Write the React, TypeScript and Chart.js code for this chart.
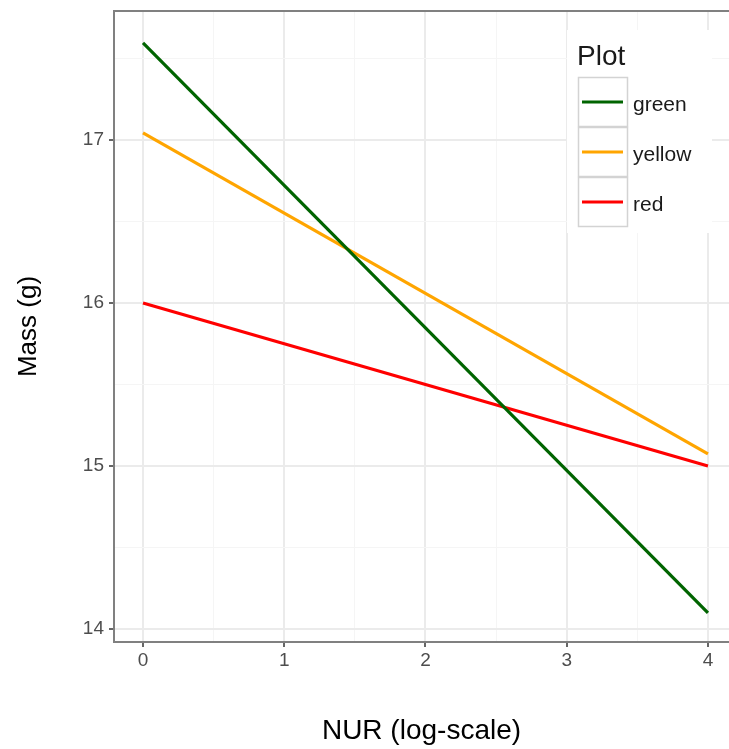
import React, { useEffect, useRef } from "react";
import { Chart, registerables } from "chart.js";

Chart.register(...registerables);

// Fitted lines of mass against NUR, one per plot
const nurValues = [0, 4];
const greenMass = [17.595, 14.098];
const yellowMass = [17.043, 15.074];
const redMass = [16.0, 15.0];

const seriesNames = ["green", "yellow", "red"];
const seriesColors = ["#006400", "#FFA500", "#FF0000"];

// Axis breaks (major ones carry labels, minor ones only a light grid line)
const xBreaks = [0, 0.5, 1, 1.5, 2, 2.5, 3, 3.5, 4];
const xLabels = ["0", "", "1", "", "2", "", "3", "", "4"];
const yBreaks = [14, 14.5, 15, 15.5, 16, 16.5, 17, 17.5];
const yLabels = ["14", "", "15", "", "16", "", "17", ""];

const FONT = "'Liberation Sans', Arial, sans-serif";

const legendPlugin = {
  id: "plotLegend",
  afterDatasetsDraw(chart: any) {
    const { ctx, chartArea } = chart;
    ctx.save();
    // top panel border
    ctx.strokeStyle = "#808080";
    ctx.lineWidth = 2;
    ctx.beginPath();
    ctx.moveTo(chartArea.left, chartArea.top);
    ctx.lineTo(chartArea.right, chartArea.top);
    ctx.stroke();

    // legend background
    ctx.fillStyle = "#FFFFFF";
    ctx.fillRect(567, 30, 145, 203);

    ctx.fillStyle = "#1a1a1a";
    ctx.font = `28px ${FONT}`;
    ctx.textBaseline = "alphabetic";
    ctx.textAlign = "left";
    ctx.fillText("Plot", 577, 65);

    const keyLeft = 578;
    const keyW = 50;
    const keyH = 50;
    const keyTop = 77;
    seriesNames.forEach((name, i) => {
      const top = keyTop + i * keyH;
      ctx.fillStyle = "#FFFFFF";
      ctx.fillRect(keyLeft, top, keyW, keyH);
      ctx.strokeStyle = "#D3D3D3";
      ctx.lineWidth = 1.5;
      ctx.strokeRect(keyLeft + 0.5, top + 0.5, keyW - 1, keyH - 1);
      ctx.strokeStyle = seriesColors[i];
      ctx.lineWidth = 3;
      ctx.beginPath();
      ctx.moveTo(keyLeft + 4, top + 25);
      ctx.lineTo(keyLeft + 45, top + 25);
      ctx.stroke();
      ctx.fillStyle = "#1a1a1a";
      ctx.font = `21px ${FONT}`;
      ctx.textBaseline = "middle";
      ctx.fillText(name, keyLeft + 55, top + 28);
    });
    ctx.restore();
  },
};

export default function App() {
  const canvasRef = useRef<HTMLCanvasElement | null>(null);

  useEffect(() => {
    const canvas = canvasRef.current;
    if (!canvas) return;
    const seriesValues = [greenMass, yellowMass, redMass];
    const chart = new Chart(canvas, {
      type: "line",
      data: {
        datasets: seriesNames.map((name, i) => ({
          label: name,
          data: nurValues.map((x, j) => ({ x, y: seriesValues[i][j] })),
          borderColor: seriesColors[i],
          backgroundColor: seriesColors[i],
          borderWidth: 3.2,
          pointRadius: 0,
          fill: false,
          tension: 0,
        })),
      },
      options: {
        responsive: false,
        animation: false,
        devicePixelRatio: 1,
        layout: { padding: { top: 11, left: 0, right: 0, bottom: 0 } },
        plugins: {
          legend: { display: false },
          tooltip: { enabled: false },
        },
        scales: {
          x: {
            type: "linear",
            min: -0.2053,
            max: 4.149,
            afterFit(scale: any) {
              scale.height = 107;
              scale.paddingLeft = 0;
              scale.paddingRight = 0;
            },
            afterBuildTicks(scale: any) {
              scale.ticks = xBreaks.map((v) => ({ value: v }));
            },
            ticks: {
              autoSkip: false,
              maxRotation: 0,
              padding: 2,
              color: "#4D4D4D",
              font: { family: FONT, size: 19 },
              callback: (_v: any, i: number) => xLabels[i],
            },
            grid: {
              color: (c: any) => (xLabels[c.index] ? "#EBEBEB" : "#F5F5F5"),
              lineWidth: (c: any) => (xLabels[c.index] ? 2 : 1),
              tickColor: (c: any) => (xLabels[c.index] ? "#333333" : "rgba(0,0,0,0)"),
              tickWidth: 1.5,
              tickLength: 5,
            },
            border: { display: true, color: "#808080", width: 2 },
            title: {
              display: true,
              text: "NUR (log-scale)",
              color: "#000000",
              font: { family: FONT, size: 28 },
              padding: { top: 0, bottom: 1 },
            },
          },
          y: {
            type: "linear",
            min: 13.92,
            max: 17.791,
            afterFit(scale: any) {
              scale.width = 114;
              scale.paddingTop = 0;
              scale.paddingBottom = 0;
            },
            afterBuildTicks(scale: any) {
              scale.ticks = yBreaks.map((v) => ({ value: v }));
            },
            ticks: {
              autoSkip: false,
              padding: 5,
              color: "#4D4D4D",
              font: { family: FONT, size: 19 },
              callback: (_v: any, i: number) => yLabels[i],
            },
            grid: {
              color: (c: any) => (yLabels[c.index] ? "#EBEBEB" : "#F5F5F5"),
              lineWidth: (c: any) => (yLabels[c.index] ? 2 : 1),
              tickColor: (c: any) => (yLabels[c.index] ? "#333333" : "rgba(0,0,0,0)"),
              tickWidth: 1.5,
              tickLength: 5,
            },
            border: { display: true, color: "#808080", width: 2 },
            title: {
              display: true,
              text: "Mass (g)",
              color: "#000000",
              font: { family: FONT, size: 26 },
              padding: { top: 13, bottom: 0 },
            },
          },
        },
      },
      plugins: [legendPlugin],
    });
    return () => chart.destroy();
  }, []);

  return (
    <div style={{ position: "absolute", left: 0, top: 0, width: 729, height: 749, background: "#FFFFFF" }}>
      <canvas ref={canvasRef} width={729} height={749} style={{ display: "block" }} />
    </div>
  );
}
